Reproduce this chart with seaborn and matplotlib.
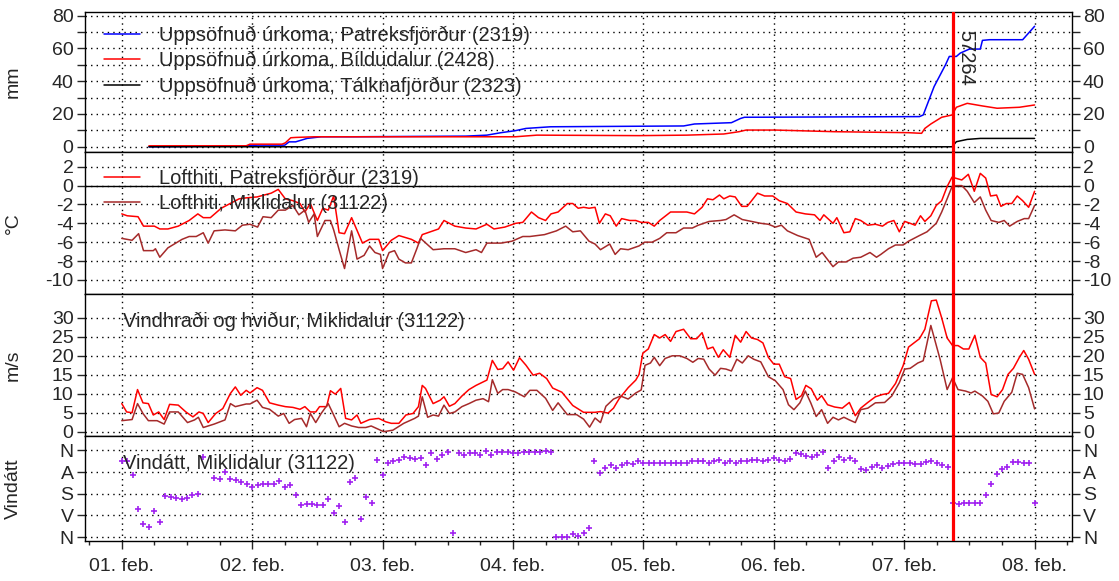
import matplotlib
matplotlib.use('Agg')
import matplotlib.pyplot as plt
import matplotlib.dates as mdates
import seaborn as sns
import pandas as pd
import numpy as np

# ---- data (hours after 01. feb 00:00) ----
start = pd.Timestamp('2023-02-01 00:00')
event_hour = 153.0
event_label = '57264'

# accumulated precipitation (mm)
precip_p_h = [5, 22.6, 25, 30, 30.8, 32, 34.1, 36.7, 42.6, 63.3, 67.2, 69.8, 72.4, 74.4, 78.9,
              103.4, 105.4, 112.2, 113.9, 114.6, 146.8, 147.5, 149.5, 151.6, 152.3, 153.6, 154.3,
              156, 158, 158.4, 159.7, 165.8, 168]
precip_p = [0, 0.5, 1.0, 1.0, 3.0, 3.0, 5.1, 6.1, 6.1, 6.5, 7.1, 8.6, 9.8, 11.2, 12.2,
            12.7, 13.9, 14.7, 17.3, 18.0, 18.4, 19.4, 36.7, 50, 55.1, 55.1, 57.1,
            59.6, 59.6, 64.9, 65.3, 65.3, 73.5]
precip_b_h = [5, 22.9, 23.6, 29.5, 30.1, 31.1, 32, 35.4, 72.4, 76.4, 95.2, 104, 110.8, 113.6,
              114.9, 120.3, 131.2, 144.8, 147.2, 147.8, 148.9, 150.9, 152.8, 153.6, 155.6,
              158.4, 161.1, 165.2, 168]
precip_b = [0.6, 0.6, 1.6, 1.6, 2.4, 5.5, 5.7, 6.1, 6.1, 7.1, 6.8, 7.1, 7.8, 9.2,
            10.2, 10.2, 9.2, 8.6, 8.2, 11.2, 13.9, 18.0, 19.4, 24.1, 26.5,
            24.9, 23.5, 24.1, 25.5]
precip_t_h = [5, 152.8, 153.6, 155.6, 158, 168]
precip_t = [0, 0, 3.1, 4.5, 5.1, 5.1]

# air temperature (°C)
temp_p_h = [0, 1, 3, 4, 6, 7, 8.5, 10.4, 12.4, 14, 15, 16.3, 18.3, 20.3, 21.6, 22.9, 24.9, 26.2,
            27.5, 28.8, 30.1, 31.5, 32.8, 33.7, 34.7, 36, 37, 38, 39, 40, 41, 42.3, 44.3, 45.6,
            47.3, 48, 49.6, 51, 53.3, 54.6, 55.3, 57.3, 58.3, 59.3, 61.3, 63.3, 65.2, 67.2, 68.5,
            70.5, 72.5, 73.8, 75.4, 76.7, 78, 79, 80.3, 82, 83, 84, 85, 86, 87.1, 87.9, 89, 89.9,
            91, 92, 93.5, 94.6, 95.6, 96.9, 98, 99, 101, 102.7, 104, 105.4, 106.8, 107.8, 108.8,
            110, 110.8, 111.9, 112.9, 114.1, 115.1, 117, 118.3, 119.8, 121, 122.5, 124.1, 125.8,
            127.5, 128.5, 129.2, 130.9, 131.6, 132.9, 134, 135, 136, 137.3, 138.7, 140, 141,
            142.1, 143.1, 144.1, 145.1, 146, 147, 147.8, 148.9, 149.9, 150.9, 151.9, 152.8,
            154.6, 155.8, 156.9, 158, 159, 159.9, 161, 161.8, 162.8, 163.8, 164.8, 165.8, 166.9, 168]
temp_p = [-3.0, -3.2, -3.3, -4.3, -4.3, -4.6, -4.6, -4.3, -3.7, -3.0, -3.4, -3.4, -2.4, -1.8, -1.4,
          -1.3, -1.2, -1.0, -0.8, -0.4, -1.4, -1.6, -1.9, -2.8, -1.9, -3.7, -2.4, -2.6, -1.1, -5.0,
          -5.1, -3.4, -6.1, -5.7, -5.7, -6.9, -5.8, -5.3, -5.7, -6.1, -5.2, -4.8, -4.6, -3.7, -4.3,
          -4.5, -4.6, -4.1, -4.6, -4.4, -4.0, -3.9, -2.8, -3.4, -3.7, -3.0, -2.8, -1.9, -1.9, -2.4,
          -2.3, -2.4, -2.3, -4.0, -3.0, -3.2, -4.3, -3.5, -3.7, -3.7, -3.9, -3.9, -4.3, -3.7, -2.8,
          -2.8, -2.8, -3.0, -2.3, -1.4, -1.5, -1.0, -1.4, -1.1, -1.2, -2.2, -2.2, -0.8, -1.1, -1.1,
          -1.6, -1.9, -2.8, -3.0, -3.1, -3.7, -3.1, -4.0, -3.4, -5.0, -4.9, -3.5, -3.7, -4.2, -4.1,
          -4.3, -3.9, -3.7, -4.9, -3.8, -4.0, -4.2, -3.2, -3.8, -3.2, -2.1, -1.6, -0.1, 0.9, 0.6,
          1.2, -0.6, 1.3, 0.8, -1.1, -1.0, -2.2, -1.9, -1.9, -1.1, -1.6, -2.3, -0.6]
temp_m_h = [0, 1.9, 3.1, 4, 5.8, 6.2, 7, 8.5, 11.1, 12.4, 13.7, 15, 15.9, 17, 19, 20.9, 22.2, 23.6,
            25, 26, 27.5, 28.8, 30.1, 31.5, 32.6, 33.7, 34.4, 35.4, 36, 37.4, 38.4, 39, 40, 41, 42.3,
            43.3, 44.6, 45.6, 46.6, 47.6, 48, 49.2, 50.2, 51, 52.2, 53.3, 54.3, 55, 57.3, 59.3, 61.3,
            63.3, 65.2, 66.2, 67.2, 69.8, 71.8, 73.8, 75.1, 76.4, 77.8, 80, 81.7, 83, 84.4, 86, 87.1,
            88.1, 89.8, 90.8, 91.8, 93.2, 95.2, 96.2, 97.6, 99, 100.3, 102, 103.4, 105, 106.1, 108.1,
            110.2, 111.2, 112.7, 114.2, 115.9, 117.6, 119, 120.3, 121.4, 122.5, 124.4, 126.5, 127.8,
            128.9, 130.9, 131.9, 133.3, 134.6, 136, 137.7, 138.9, 139.7, 141.1, 142.4, 143.8, 144.8,
            145.8, 146.8, 148.2, 149.9, 150.9, 151.9, 152.8, 153.6, 154.6, 155.6, 156.9, 158, 159,
            160, 161.4, 162.4, 163.4, 164.8, 166.1, 166.9, 168]
temp_m = [-5.6, -5.8, -5.1, -6.9, -6.9, -6.7, -7.6, -6.6, -5.7, -5.4, -5.4, -5.0, -6.1, -4.8, -4.7,
          -4.8, -4.2, -4.1, -4.4, -3.3, -3.4, -2.6, -2.6, -2.1, -3.1, -2.6, -3.9, -3.0, -5.4, -3.7,
          -3.7, -4.7, -6.8, -8.8, -4.8, -7.8, -7.4, -6.4, -7.1, -7.3, -8.8, -7.1, -6.9, -7.8, -8.2,
          -8.2, -6.7, -5.6, -6.8, -6.7, -6.7, -7.1, -6.8, -7.1, -6.1, -6.1, -5.9, -5.4, -5.4, -5.3,
          -5.2, -4.8, -4.3, -4.9, -4.8, -5.9, -6.2, -6.8, -6.2, -7.3, -6.7, -6.8, -6.4, -6.0, -6.0,
          -5.6, -5.0, -5.0, -4.5, -4.5, -4.2, -3.8, -3.7, -3.6, -3.1, -3.6, -3.8, -4.0, -4.1, -4.4,
          -4.2, -4.8, -5.3, -5.7, -7.6, -7.1, -8.6, -8.1, -8.1, -7.7, -7.6, -7.1, -7.6, -7.3, -6.7,
          -6.3, -6.3, -5.9, -5.6, -5.3, -4.9, -4.0, -2.8, -1.4, -0.1, 0.0, 0.0, -0.6, -1.8, -1.2,
          -2.6, -3.7, -3.9, -3.7, -4.3, -3.8, -3.5, -3.5, -2.1]

# wind gusts and mean wind (m/s)
gust_h = [0, 0.9, 1.9, 2.9, 3.9, 4.9, 5.8, 6.8, 7.8, 8.8, 10.4, 11.8, 13.1, 14.2, 15, 15.9, 17.3,
          18.6, 20, 20.9, 21.9, 22.9, 23.6, 24.9, 25.9, 27.2, 28.8, 30.1, 31.5, 32.8, 33.7, 34.7,
          35.7, 36.4, 37.7, 38.4, 39.3, 40.3, 41.2, 42.3, 43.3, 44, 45.6, 47.3, 48.6, 49.6, 51,
          52.3, 53.6, 54.6, 55.3, 55.9, 57.3, 58.6, 59.3, 60.3, 61.3, 62.6, 63.9, 65.2, 66.5, 67.2,
          68.2, 69.2, 70.1, 71.1, 72.1, 73.2, 74.4, 75.7, 76.9, 78.2, 79.3, 81, 83, 85, 87.1, 88.1,
          89.5, 90.5, 91.5, 93.2, 94.6, 95.2, 95.9, 96.9, 98, 99, 100, 101, 102, 103.4, 104.7,
          105.8, 106.8, 107.8, 108.8, 109.8, 110.7, 111.9, 112.9, 113.9, 114.9, 115.9, 117, 118,
          119, 120, 121, 122, 123.1, 124.1, 125.1, 125.9, 126.9, 128, 128.8, 129.9, 131.2, 132.6,
          133.9, 135, 136, 137.3, 138.7, 140, 141.1, 142.4, 143.8, 144.8, 145.8, 146.8, 147.8, 149,
          149.9, 150.9, 151.9, 152.9, 153.9, 154.9, 155.9, 157, 158, 159, 160, 161.1, 162.1, 163.1,
          164.1, 165.2, 166, 166.9, 168]
gust = [7.4, 5.2, 5.0, 11.1, 7.6, 7.4, 4.4, 5.2, 3.2, 7.2, 7.0, 5.2, 3.9, 5.2, 4.8, 2.4, 4.8, 6.1,
        10.1, 11.8, 9.6, 10.9, 10.2, 11.6, 10.9, 7.6, 7.0, 6.6, 6.4, 5.9, 6.6, 5.2, 5.2, 6.6, 6.6,
        10.8, 9.9, 11.4, 3.5, 3.1, 4.4, 2.2, 3.2, 3.5, 2.6, 2.2, 2.2, 4.4, 4.8, 6.6, 12.2, 11.4, 7.4,
        8.3, 9.2, 6.7, 7.4, 9.4, 11.1, 12.2, 13.1, 13.6, 18.8, 16.4, 16.6, 18.4, 16.2, 19.5, 17.5,
        14.9, 15.4, 14.0, 11.5, 10.4, 6.9, 5.1, 5.1, 5.3, 4.9, 6.2, 8.6, 11.6, 13.6, 15.1, 20.7,
        21.8, 25.6, 24.7, 25.6, 23.8, 26.4, 27.0, 24.5, 24.5, 26.1, 21.8, 22.3, 19.6, 21.6, 19.6,
        25.4, 23.6, 26.4, 24.7, 24.3, 23.4, 19.6, 17.8, 17.8, 14.5, 14.0, 8.5, 9.5, 12.2, 11.3, 8.3,
        9.5, 7.1, 6.5, 6.2, 7.7, 4.2, 6.2, 7.7, 9.2, 9.8, 10.1, 12.7, 17.4, 22.3, 23.4, 24.5, 27.0,
        34.5, 34.7, 30.0, 24.7, 22.7, 22.7, 21.8, 21.8, 25.4, 19.6, 18.1, 9.8, 9.2, 11.1, 15.1,
        16.7, 19.6, 21.4, 19.1, 15.1]
wind_h = [0, 1.9, 2.9, 3.9, 4.9, 6.5, 7.8, 8.8, 10.4, 12.1, 13.4, 14.1, 15, 17, 19, 20, 20.9, 22.9,
          23.6, 24.9, 25.9, 27.2, 28.8, 29.8, 30.8, 31.8, 33.1, 34, 34.7, 35.7, 36.7, 38, 39, 40,
          41, 42.3, 43.6, 44.9, 45.9, 47.3, 48.2, 49.9, 51.9, 53.9, 54.6, 55.3, 56.3, 57.3, 58.3,
          59.3, 60.3, 61.3, 62.6, 63.9, 65.2, 66.5, 67.5, 68.2, 69.2, 70.1, 71.1, 72.4, 74.1, 75.1,
          76.4, 78, 79.3, 80.3, 82, 83.7, 85, 86.1, 87.1, 88.1, 89.1, 90.5, 91.8, 93.2, 94.6, 95.6,
          96.3, 97.3, 98, 99, 100, 101.3, 102.7, 104, 105.1, 106.1, 107.1, 108.1, 109.2, 110.2,
          111.2, 112.2, 113.2, 114.2, 115.3, 116.3, 117.6, 119, 120.3, 121.7, 122.7, 123.7, 124.8,
          125.8, 126.8, 127.8, 128.8, 129.9, 130.9, 131.9, 132.9, 133.9, 135, 136, 137.3, 138.7,
          140.4, 141.7, 143.1, 144.1, 145.1, 146.5, 147.5, 148.9, 150.6, 151.9, 152.9, 153.9,
          155.3, 156.3, 157, 158.4, 159.4, 160.4, 161.4, 162.4, 163.8, 164.8, 165.8, 166.9, 168]
wind = [2.9, 3.2, 7.4, 4.8, 2.9, 2.9, 2.0, 5.2, 5.2, 2.4, 3.1, 3.8, 1.1, 2.0, 3.1, 7.4, 6.6, 7.3,
        7.3, 8.3, 6.4, 5.9, 4.1, 4.8, 2.2, 3.2, 3.5, 1.3, 4.8, 2.4, 4.8, 7.4, 4.4, 1.3, 2.2, 1.5,
        1.1, 1.1, 1.5, 0.6, 0.0, 0.4, 2.2, 3.5, 4.1, 9.2, 3.8, 4.4, 4.1, 7.0, 4.8, 5.2, 6.6, 7.4,
        8.3, 8.7, 7.9, 13.7, 10.1, 11.1, 11.1, 10.5, 9.2, 10.9, 10.9, 8.8, 5.6, 7.6, 4.5, 4.5, 3.3,
        1.2, 3.6, 2.4, 6.7, 8.6, 9.4, 8.6, 10.2, 11.0, 17.5, 18.1, 19.6, 17.4, 19.3, 20.0, 20.0,
        19.3, 18.3, 19.3, 19.1, 16.5, 14.9, 16.7, 16.5, 16.0, 19.1, 18.1, 20.0, 19.1, 18.4, 14.5,
        13.4, 11.1, 7.1, 5.8, 7.6, 10.7, 7.6, 4.0, 5.8, 2.2, 3.8, 3.1, 3.8, 3.1, 2.4, 5.8, 6.2, 7.6,
        7.7, 9.4, 12.9, 16.5, 16.7, 18.1, 18.7, 28.0, 19.1, 11.1, 14.2, 11.1, 10.7, 10.2, 10.7,
        9.4, 8.0, 4.7, 4.9, 8.0, 10.4, 15.4, 15.1, 11.6, 6.0]

# wind direction (degrees), hourly from 0 to 168
wdir = [44, 44, 101, 245, 307, 318, 252, 298, 190, 194, 197, 201, 197, 187, 183, 26, np.nan, 115,
        120, 90, 118, 123, 132, 141, 151, 145, 141, 141, 138, 127, 151, 145, 187, 228, 224, 224,
        227, 227, 201, 259, 231, 296, 130, 116, 284, 194, 217, 42, 104, 54, 46, 42, 26, 33, 37, 33,
        61, 10, 35, 21, 6, 342, 10, 19, 12, 10, 18, 4, 18, 7, 7, 7, 12, 10, 7, 6, 6, 6, 1, 6, 359,
        359, 359, 346, 356, 342, 321, 44, 96, 72, 62, 75, 62, 54, 58, 44, 51, 54, 54, 54, 54, 54,
        54, 54, 51, 46, 43, 43, 51, 43, 40, 51, 46, 51, 46, 43, 40, 40, 43, 40, 32, 40, 43, 35, 12,
        17, 24, 29, 19, 6, 72, 44, 28, 42, 33, 44, 79, 82, 68, 62, 72, 65, 58, 54, 54, 54, 57, 57,
        47, 46, 54, 61, 69, 217, 222, 220, 217, 220, 220, 186, 138, 100, 76, 68, 47, 47, 51, 54, 217]
dir_ticks = [0, 90, 180, 270, 360]
dir_labels = ['N', 'A', 'S', 'V', 'N']


def to_time(hours):
    return start + pd.to_timedelta(np.asarray(hours, dtype=float), unit='h')


sns.set_style('white')
plt.rcParams['font.family'] = ['Liberation Sans', 'DejaVu Sans']
plt.rcParams['axes.edgecolor'] = 'black'
plt.rcParams['axes.linewidth'] = 1.0
plt.rcParams['axes.unicode_minus'] = False

TXT = 14.5   # legend / panel text
TICK = 14    # tick labels

fig = plt.figure(figsize=(11.19, 5.81), dpi=100)
left, width = 0.0756, 0.8822
ax1 = fig.add_axes([left, 0.7389, width, 0.2410])
ax2 = fig.add_axes([left, 0.4940, width, 0.2449], sharex=ax1)
ax3 = fig.add_axes([left, 0.2501, width, 0.2439], sharex=ax1)
ax4 = fig.add_axes([left, 0.0688, width, 0.1812], sharex=ax1)
axes = [ax1, ax2, ax3, ax4]

# precipitation
sns.lineplot(x=to_time(precip_p_h), y=precip_p, ax=ax1, color='blue', lw=1.1,
             label='Uppsöfnuð úrkoma, Patreksfjörður (2319)')
sns.lineplot(x=to_time(precip_b_h), y=precip_b, ax=ax1, color='red', lw=1.1,
             label='Uppsöfnuð úrkoma, Bíldudalur (2428)')
sns.lineplot(x=to_time(precip_t_h), y=precip_t, ax=ax1, color='black', lw=1.1,
             label='Uppsöfnuð úrkoma, Tálknafjörður (2323)')
ax1.set_ylim(-3, 82.4)
ax1.set_yticks(range(0, 81, 10))
ax1.set_yticklabels([str(v) if v % 20 == 0 else '' for v in range(0, 81, 10)])
ax1.set_ylabel('mm')

# temperature
ax2.axhline(0, color='black', lw=1.0)
sns.lineplot(x=to_time(temp_p_h), y=temp_p, ax=ax2, color='red', lw=1.1,
             label='Lofthiti, Patreksfjörður (2319)')
sns.lineplot(x=to_time(temp_m_h), y=temp_m, ax=ax2, color='brown', lw=1.1,
             label='Lofthiti, Miklidalur (31122)')
ax2.set_ylim(-11.5, 3.6)
ax2.set_yticks(range(-10, 3, 2))
ax2.set_ylabel('°C')

# wind
sns.lineplot(x=to_time(gust_h), y=gust, ax=ax3, color='red', lw=1.1)
sns.lineplot(x=to_time(wind_h), y=wind, ax=ax3, color='brown', lw=1.1)
ax3.set_ylim(-1.06, 36.3)
ax3.set_yticks(range(0, 31, 5))
ax3.set_ylabel('m/s')
ax3.text(0.0384, 0.805, 'Vindhraði og hviður, Miklidalur (31122)', transform=ax3.transAxes,
         fontsize=TXT, va='center', ha='left')

# wind direction
sns.scatterplot(x=to_time(np.arange(len(wdir))), y=wdir, ax=ax4, marker='+', color='#A020F0',
                s=22, linewidth=1.2)
ax4.set_ylim(376.6, -60.6)
ax4.set_yticks(dir_ticks)
ax4.set_yticklabels(dir_labels)
ax4.set_ylabel('Vindátt')
ax4.text(0.0384, 0.741, 'Vindátt, Miklidalur (31122)', transform=ax4.transAxes,
         fontsize=TXT, va='center', ha='left')

ax1.set_xlim(start - pd.Timedelta(hours=6.84), start + pd.Timedelta(hours=174.84))
ax4.xaxis.set_major_locator(mdates.DayLocator())
ax4.xaxis.set_minor_locator(mdates.HourLocator(byhour=[0, 6, 12, 18]))
ax4.xaxis.set_major_formatter(mdates.DateFormatter('%d. feb.'))

event = start + pd.Timedelta(hours=event_hour)
for ax in axes:
    ax.axvline(event, color='red', lw=2.3, zorder=5)
    ax.grid(True, which='major', color='black', linestyle=(0, (1, 3)), linewidth=1.0)
    ax.tick_params(axis='y', which='major', left=True, right=True, labelleft=True,
                   labelright=True, length=6, width=1, pad=2, labelsize=TICK, direction='out')
    ax.tick_params(axis='x', which='both', bottom=False, top=False, labelbottom=False)
    ax.yaxis.set_label_coords(-0.0634, 0.5)
    ax.yaxis.label.set_size(TICK)
    ax.set_xlabel('')
    for s in ax.spines.values():
        s.set_visible(True)
        s.set_color('black')

ax4.tick_params(axis='x', which='major', bottom=True, labelbottom=True, length=6, width=1,
                labelsize=TICK, pad=6)
ax4.tick_params(axis='x', which='minor', bottom=True, length=3, width=1)

ax1.annotate(event_label, xy=(event, 71), xytext=(2, 0), textcoords='offset points',
             rotation=270, ha='left', va='top', fontsize=TXT, zorder=6)

leg_kw = dict(loc='upper left', frameon=False, fontsize=TXT, handlelength=1.8,
              handletextpad=0.95, labelspacing=0.3, borderpad=0, borderaxespad=0)
ax1.legend(bbox_to_anchor=(0.0192, 0.9), **leg_kw)
ax2.legend(bbox_to_anchor=(0.0192, 0.88), **leg_kw)

plt.savefig('out.png', dpi=100)
